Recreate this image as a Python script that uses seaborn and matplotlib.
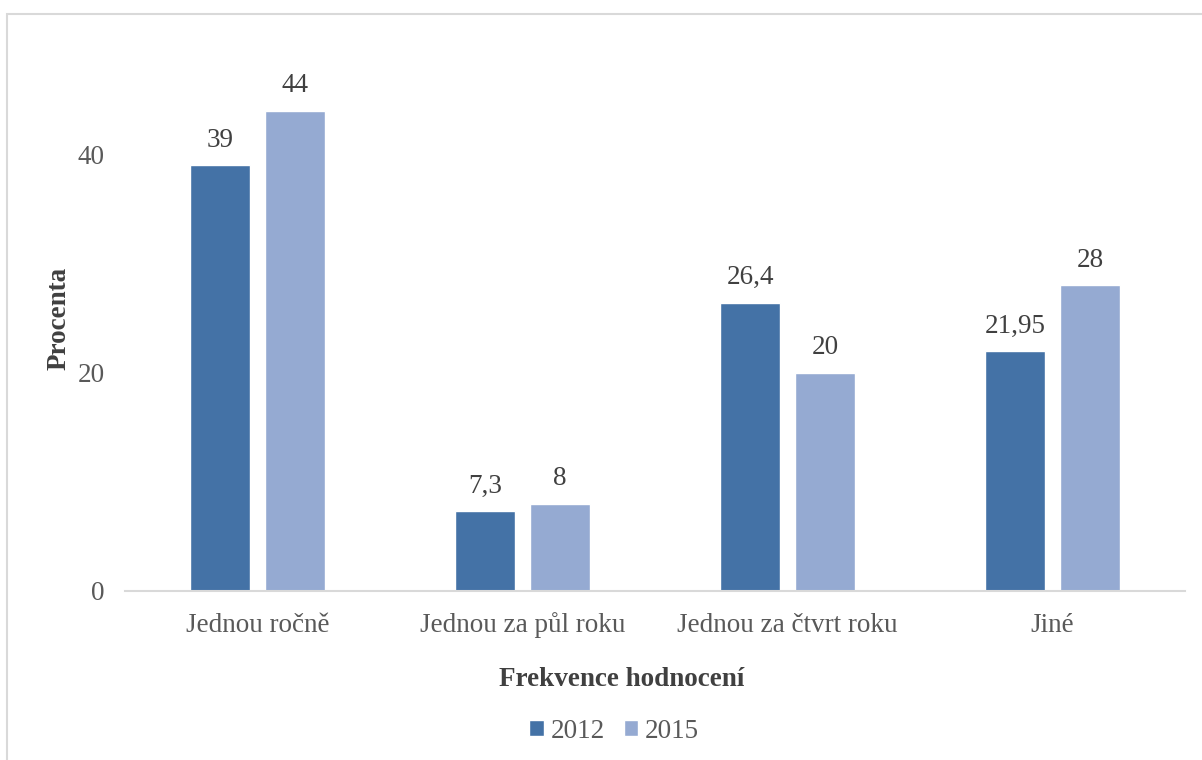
import matplotlib
matplotlib.use('Agg')
import matplotlib.pyplot as plt
import seaborn as sns
import pandas as pd
from matplotlib.patches import Rectangle

categories = ['Jednou ročně', 'Jednou za půl roku', 'Jednou za čtvrt roku', 'Jiné']
years = ['2012', '2015']
values_2012 = [39, 7.3, 26.4, 21.95]
values_2015 = [44, 8, 20, 28]
labels_2012 = ['39', '7,3', '26,4', '21,95']
labels_2015 = ['44', '8', '20', '28']
colors = ['#4472A6', '#95AAD2']

df = pd.DataFrame({
    'kategorie': categories * 2,
    'rok': [years[0]] * 4 + [years[1]] * 4,
    'procenta': values_2012 + values_2015,
})

sns.set_style('white')
plt.rcParams['font.family'] = ['Liberation Serif', 'DejaVu Serif']
fs = 19.5

fig = plt.figure(figsize=(12.02, 7.6), dpi=100)
ax = fig.add_axes([125 / 1202, 1 - 591 / 760, 1060 / 1202, (591 - 45) / 760])

sns.barplot(data=df, x='kategorie', y='procenta', hue='rok', order=categories,
            hue_order=years, palette=colors, width=0.566, gap=0.2,
            saturation=1, ax=ax, legend=True)

ax.set_xlim(-0.5, 3.5)
ax.set_ylim(0, 50)
ax.set_yticks([0, 20, 40])
ax.tick_params(axis='both', length=0, labelsize=fs, labelcolor='#595959')
ax.tick_params(axis='x', pad=29.5)
ax.tick_params(axis='y', pad=14.5)
for t in ax.get_xticklabels():
    t.set_va('baseline')

for side in ['top', 'right', 'left']:
    ax.spines[side].set_visible(False)
ax.spines['bottom'].set_color('#D9D9D9')
ax.spines['bottom'].set_linewidth(1.5)

for cont, labs in zip(ax.containers, [labels_2012, labels_2015]):
    ax.bar_label(cont, labels=labs, padding=9, fontsize=fs, color='#404040')

ax.set_xlabel('Frekvence hodnocení', fontsize=fs, fontweight='bold',
              color='#404040')
ax.xaxis.label.set_va('baseline')
ax.xaxis.set_label_coords((622 - 125) / 1060, -(686 - 591) / 546)
ax.set_ylabel('Procenta', fontsize=fs, fontweight='bold', color='#404040')
ax.yaxis.set_label_coords(-53 / 1060, 0.5)

ax.legend(loc='center', bbox_to_anchor=(614 / 1202, 1 - 731 / 760),
          bbox_transform=fig.transFigure, ncol=2, frameon=False,
          fontsize=fs, handlelength=0.55, handleheight=0.55, handletextpad=0.25,
          columnspacing=0.7, labelcolor='#595959')

fig.patches.append(Rectangle((7 / 1202, -0.1), 1.2, 1 - 14 / 760 + 0.1,
                             transform=fig.transFigure, fill=False,
                             edgecolor='#D9D9D9', linewidth=1.5))

fig.savefig('out.png', dpi=100)
